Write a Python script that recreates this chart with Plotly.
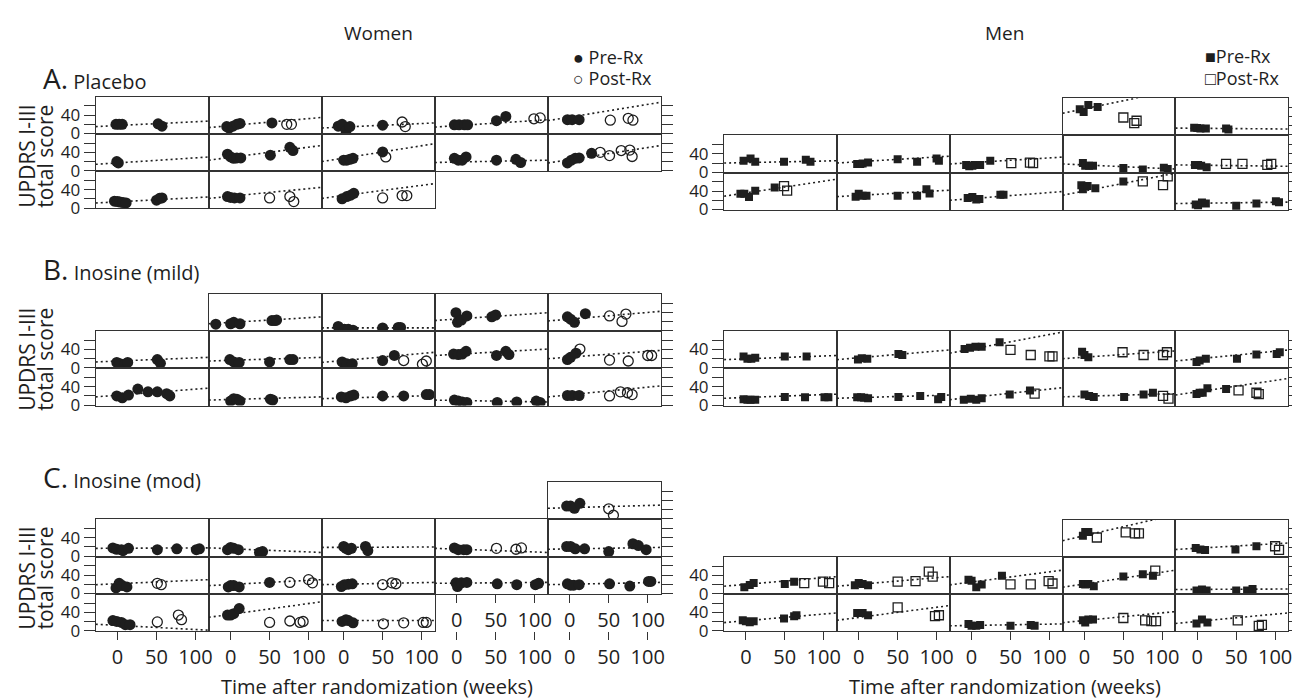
import numpy as np
import plotly.graph_objects as go

# ---------------- data (weeks, UPDRS I-III total score) ----------------
# Women, Placebo
WA_pre_wk = [[-2,2,6,52,57],[-5,-2,3,8,12,53],[-7,-2,3,8,50],[-3,3,10,14,51,63],[-3,3,12],
             [-1,1],[-4,0,4,8,13,51,76,80],[0,4,8,12,50],[-3,2,7,12,51,76,82],[-3,2,7,12,28],
             [-4,0,3,7,11,50,54,57],[-4,0,5,12],[-2,4,9,13]]
WA_pre_score = [[20,20,20,21,16],[15,12,16,20,22,23],[16,20,6,15,18],[19,19,19,19,28,37],[30,30,30],
                [20,17],[36,30,27,28,28,34,51,44],[23,23,25,27,41],[27,23,23,30,23,25,18],[17,23,27,28,38],
                [15,14,13,12,11,17,21,22],[25,23,22,22],[20,25,28,32]]
WA_post_wk = [[],[72,78],[75,79],[99,107],[52,75,81],
              [],[],[54],[],[39,51,66,77,80],
              [],[50,76,81],[50,75,81]]
WA_post_score = [[],[20,20],[25,15],[32,34],[29,33,29],
                 [],[],[30],[],[40,33,44,45,31],
                 [],[22,25,14],[22,27,27]]
WA_fit_int = [17.3,17.2,14.1,17.1,35.7,17.1,29.2,27.5,19.0,24.3,13.5,25.6,27.2]
WA_fit_slope = [0.083,0.152,0.076,0.110,0.276,0.110,0.221,0.269,0.034,0.262,0.090,0.166,0.221]

# Men, Placebo
MA_pre_wk = [[-6,-1,5,17],[-4,0,4,11,37,40],
             [-3,6,12,49,77,83],[-2,2,5,12,50,75,100,103],[-7,-3,1,4,11,24],[-2,1,6,11,50,75,102,107],[-3,1,5,12],
             [-7,-2,4,12,37],[-4,0,5,10,50,75,87,91],[-5,1,6,10,37,41],[-4,-2,4,14,50],[-2,1,6,11,50,76,101,105]]
MA_pre_score = [[56,50,65,61],[16,15,14,14,14,12],
                [25,30,23,23,27,23],[18,18,19,21,28,23,30,25],[16,13,14,16,16,25],[20,14,14,14,9,6,10,7],[16,16,14,11],
                [34,34,27,41,48],[28,34,30,30,30,30,44,35],[25,27,22,23,32,32],[53,44,51,46,61],[11,9,15,13,8,13,18,16]]
MA_post_wk = [[50,64,67],[],
              [],[],[51,75,79],[],[37,58,90,95],
              [49,53],[],[],[75,101,107],[]]
MA_post_score = [[38,26,31],[],
                 [],[],[20,21,20],[],[18,18,16,18],
                 [51,41],[],[],[61,53,72],[]]
MA_fit_int = [57,14.6,21.0,22.9,20.9,15.9,15.4,36.1,30.7,23.7,40.3,13.6]
MA_fit_slope = [0.35,-0.014,0.034,0.103,0.103,-0.076,-0.021,0.255,0.097,0.131,0.331,0.021]

# Women, Inosine (mild)
WB_pre_wk = [[-19,0,4,12,53,57,59],[-7,1,6,12,50,70,73],[-1,1,6,13,45,50],[-3,1,6,20],
             [-1,3,9,13,51,55],[-1,4,11,50,76,80],[-2,4,11,50,65],[-4,2,7,12,51,63,67],[-3,1,8],
             [-1,6,14,26,39,51,63,67],[0,4,8,12,51,54],[-3,3,9,13,50,77,106,110],[-3,2,7,13,52,77,102,107],[-3,3,12]]
WB_pre_score = [[14,15,18,15,22,22,23],[9,3,3,1,6,7,7],[39,18,23,32,30,34],[30,25,18,37],
                [12,9,8,12,18,10],[18,13,12,13,18,18],[13,9,9,16,27],[30,29,30,36,27,36,29],[18,23,32],
                [20,16,22,35,29,29,25,20],[9,14,13,9,13,11],[18,16,20,22,20,20,23,23],[11,9,7,6,6,7,9,6],[21,21,21]]
WB_post_wk = [[],[],[],[51,67,72],
              [],[],[77,101,106],[],[13,51,75,100,105],
              [],[],[],[],[51,65,74,80]]
WB_post_score = [[],[],[],[32,20,36],
                 [],[],[16,8,15],[],[41,17,15,27,27],
                 [],[],[],[],[20,29,27,23]]
WB_fit_int = [17.9,6.0,25.3,25.1,14.9,16.5,16.2,29.7,23.5,21.7,12.4,15.4,10.2,22.6]
WB_fit_slope = [0.103,0.0,0.117,0.145,0.069,0.055,0.152,0.097,0.124,0.131,0.048,0.048,-0.028,0.166]

# Men, Inosine (mild)
MB_pre_wk = [[-3,2,7,12,50,78],[-1,4,11,51,56],[-9,-2,5,13,36],[-3,0,5],[-1,3,11,51,76,102,106],
             [-3,2,6,12,50,76,101,106],[-2,3,7,12,51,79,102,106],[-10,-1,6,13,49,75],[0,6,12,51,76,88],[-1,3,7,13,37]]
MB_pre_score = [[25,20,20,22,25,25],[18,21,20,30,28],[41,44,46,46,56],[35,28,23],[13,16,20,20,29,30,34],
                [13,12,12,12,18,17,17,17],[17,17,16,15,18,20,13,18],[12,14,12,15,23,32],[23,20,18,18,23,27],[24,27,27,37,35]]
MB_post_wk = [[],[],[50,76,100,104],[49,76,101,106],[],
              [],[],[81],[101,108],[53,76,79]]
MB_post_score = [[],[],[39,28,25,25],[34,28,28,34],[],
                 [],[],[25],[20,14],[32,27,24]]
MB_fit_int = [19.7,22.1,40.9,23.3,19.6,16.7,16.4,17.0,19.4,29.0]
MB_fit_slope = [0.062,0.145,0.317,0.117,0.166,0.062,0.048,0.179,0.048,0.248]

# Women, Inosine (mod)
WC_pre_wk = [[-4,1,6,13],
             [-6,-1,5,7,14,51,76,101,105],[-4,0,4,10,37,41],[0,3,6,10,28,31],[-3,2,9,13],[-4,1,7,19,50,81,88,98],
             [-2,2,6,12],[-3,0,4,11,50],[-3,1,6,11],[-1,1,6,13,52,77,101,105],[-3,1,5,12,51,77,101,104],
             [-6,-1,5,10,16],[-4,0,4,11],[-2,3,6,12]]
WC_pre_score = [[28,28,23,34],
                [18,15,14,12,17,14,16,14,16],[14,19,17,14,8,10],[21,17,14,17,21,12],[18,14,14,14],[21,21,16,16,10,27,23,14],
                [12,22,17,14],[14,17,17,14,24],[15,19,20,21],[23,15,23,24,21,19,19,22],[21,18,18,19,21,16,26,26],
                [22,20,18,13,13],[34,34,37,48],[20,24,22,17]]
WC_post_wk = [[50,56],
              [],[],[],[51,76,83],[],
              [51,56],[76,100,105],[50,62,67],[],[],
              [51,78,82],[50,76,89,93],[51,77,102,106]]
WC_post_score = [[22,8],
                 [],[],[],[17,15,18],[],
                 [22,19],[24,30,23],[19,23,21],[],[],
                 [19,34,24],[18,21,18,20],[15,17,18,18]]
WC_fit_int = [24.4,17.2,16.1,19.2,15.3,15.8,21.1,19.5,20.0,22.4,20.0,11.5,35.6,22.0]
WC_fit_slope = [0.048,0.007,-0.069,0.007,-0.062,0.028,0.076,0.090,0.034,0.014,0.034,-0.090,0.234,0.0]

# Men, Inosine (mod)
MC_pre_wk = [[-2,1,5],[-2,4,10,49,76],
             [-2,5,10,50,62],[-5,0,5,12],[-4,0,6,13,39],[-2,1,5,12,50,75,88],[-1,6,12,50,64,71],
             [-4,0,5,10,49,62,65],[-2,3,5,12],[-4,0,6,11,50,76,81],[-2,1,5,11],[-1,6,13]]
MC_pre_score = [[45,53,53],[18,15,14,15,22],
                [14,19,23,21,26],[18,23,21,18],[30,28,14,20,39],[21,20,21,16,37,42,39],[7,9,7,7,7,10],
                [23,21,19,21,27,32,34],[39,39,39,34],[15,11,11,13,11,13,11],[23,18,25,25],[16,25,18]]
MC_post_wk = [[16,53,65,70],[100,105],
              [75,99,107],[50,73,90,95],[50,76,99,104],[91],[],
              [],[50,98,103],[],[50,78,86,92],[52,79,83]]
MC_post_score = [[41,52,50,50],[22,14],
                 [23,26,23],[26,27,48,37],[20,20,27,22],[50],[],
                 [],[51,32,34],[],[28,23,21,21],[23,11,13]]
MC_fit_int = [45,17.7,20.1,20.1,25.2,21.1,9.2,22.1,29.2,11.8,22.6,20.5]
MC_fit_slope = [0.39,0.097,0.145,0.145,0.221,0.255,0.007,0.145,0.221,0.028,0.166,0.159]

X_TICKS = [0, 50, 100]
Y_TICKS = [0, 20, 40, 60]
Y_TICKTEXT = ["0", "", "40", ""]
X_RANGE = [-28, 117]
Y_RANGE = [-1, 80]

# ---------------- lattice layout (pixels) ----------------
W, H = 1300, 698
RH = 37.8
WOMEN_LEFT, WOMEN_CW = 88.0, 113.4
MEN_LEFT, MEN_CW = 718.3, 113.2


def full(r, cols):
    return [(r, c) for c in cols]


WA_cells = full(0, range(5)) + full(1, range(5)) + full(2, range(3))
MA_cells = full(0, [3, 4]) + full(1, range(5)) + full(2, range(5))
WB_cells = full(0, [1, 2, 3, 4]) + full(1, range(5)) + full(2, range(5))
MB_cells = full(0, range(5)) + full(1, range(5))
WC_cells = full(0, [4]) + full(1, range(5)) + full(2, range(5)) + full(3, range(3))
MC_cells = full(0, [3, 4]) + full(1, range(5)) + full(2, range(5))

groups = [
    ("W", 90.0, WA_cells, WA_pre_wk, WA_pre_score, WA_post_wk, WA_post_score, WA_fit_int, WA_fit_slope, False),
    ("M", 91.5, MA_cells, MA_pre_wk, MA_pre_score, MA_post_wk, MA_post_score, MA_fit_int, MA_fit_slope, False),
    ("W", 290.0, WB_cells, WB_pre_wk, WB_pre_score, WB_post_wk, WB_post_score, WB_fit_int, WB_fit_slope, False),
    ("M", 327.8, MB_cells, MB_pre_wk, MB_pre_score, MB_post_wk, MB_post_score, MB_fit_int, MB_fit_slope, False),
    ("W", 481.0, WC_cells, WC_pre_wk, WC_pre_score, WC_post_wk, WC_post_score, WC_fit_int, WC_fit_slope, True),
    ("M", 519.0, MC_cells, MC_pre_wk, MC_pre_score, MC_post_wk, MC_post_score, MC_fit_int, MC_fit_slope, True),
]

INK = "#1e1e1e"
FONT = "Open Sans"
fig = go.Figure()
lay = {}
n_ax = [0]


def new_axes():
    n_ax[0] += 1
    n = n_ax[0]
    sfx = "" if n == 1 else str(n)
    return n, "x" + sfx, "y" + sfx, "xaxis" + sfx, "yaxis" + sfx


def xdom(sex, c):
    left, cw = (WOMEN_LEFT, WOMEN_CW) if sex == "W" else (MEN_LEFT, MEN_CW)
    return [(left + c * cw) / W, (left + (c + 1) * cw) / W]


def ydom(top, r):
    y0 = top + r * RH
    return [1 - (y0 + RH) / H, 1 - y0 / H]


XTICKFONT = dict(size=20, color=INK, family=FONT)
YTICKFONT = dict(size=17, color=INK, family=FONT)

for sex, top, cells, pwk, psc, qwk, qsc, fb, fs, with_x in groups:
    nrows = max(r for r, c in cells) + 1
    bottom_of_col = {}
    for r, c in cells:
        bottom_of_col[c] = max(bottom_of_col.get(c, -1), r)
    for i, (r, c) in enumerate(cells):
        n, xr, yr, xk, yk = new_axes()
        is_bottom = with_x and bottom_of_col[c] == r
        xl = np.array(X_RANGE, dtype=float)
        fig.add_trace(go.Scatter(x=xl, y=fb[i] + fs[i] * xl, mode="lines",
                                 line=dict(color=INK, width=1.6, dash="2px,3px"),
                                 xaxis=xr, yaxis=yr, showlegend=False, hoverinfo="skip"))
        if sex == "W":
            pre_m = dict(symbol="circle", size=11, color=INK, line=dict(width=0))
            post_m = dict(symbol="circle-open", size=10, color=INK, line=dict(width=1.3, color=INK))
        else:
            pre_m = dict(symbol="square", size=8, color=INK, line=dict(width=0))
            post_m = dict(symbol="square-open", size=9, color=INK, line=dict(width=1.3, color=INK))
        if pwk[i]:
            fig.add_trace(go.Scatter(x=pwk[i], y=psc[i], mode="markers", marker=pre_m,
                                     xaxis=xr, yaxis=yr, showlegend=False))
        if qwk[i]:
            fig.add_trace(go.Scatter(x=qwk[i], y=qsc[i], mode="markers", marker=post_m,
                                     xaxis=xr, yaxis=yr, showlegend=False))
        lay[xk] = dict(domain=xdom(sex, c), range=X_RANGE, anchor=yr, showline=True, mirror=True,
                       linecolor="#333", linewidth=1.2, showgrid=False, zeroline=False, fixedrange=True,
                       ticks="outside" if is_bottom else "", tickvals=X_TICKS, ticklen=8, tickwidth=1.2,
                       tickcolor="#333", showticklabels=is_bottom, tickfont=XTICKFONT)
        yax = dict(domain=ydom(top, r), range=Y_RANGE, anchor=xr, showline=True, mirror=True,
                   linecolor="#333", linewidth=1.2, showgrid=False, zeroline=False, fixedrange=True,
                   tickvals=Y_TICKS, ticktext=Y_TICKTEXT, ticklen=11, tickwidth=1.2, tickcolor="#333",
                   tickfont=YTICKFONT, ticks="", showticklabels=False)
        if c == 0:
            yax.update(ticks="outside", showticklabels=True, side="left")
        elif c == 4:
            yax.update(ticks="outside", showticklabels=False, side="right")
        lay[yk] = yax
    # empty columns of the bottom row still carry the time axis
    if with_x:
        for c in range(5):
            if bottom_of_col.get(c, -1) == nrows - 1:
                continue
            n, xr, yr, xk, yk = new_axes()
            fig.add_trace(go.Scatter(x=[None], y=[None], xaxis=xr, yaxis=yr,
                                     showlegend=False, hoverinfo="skip"))
            lay[xk] = dict(domain=xdom(sex, c), range=X_RANGE, anchor=yr, showline=False,
                           showgrid=False, zeroline=False, fixedrange=True, ticks="outside",
                           tickvals=X_TICKS, ticklen=8, tickwidth=1.2, tickcolor="#333",
                           tickfont=XTICKFONT)
            lay[yk] = dict(domain=ydom(top, nrows - 1), range=Y_RANGE, anchor=xr, visible=False,
                           fixedrange=True)

# ---------------- text ----------------
ann = []


def text(t, x, y, size, xanchor="center", angle=0):
    ann.append(dict(text=t, x=x / W, y=1 - y / H, xref="paper", yref="paper", showarrow=False,
                    xanchor=xanchor, yanchor="middle", textangle=angle,
                    font=dict(size=size, color=INK, family=FONT)))


text("Women", 372, 25, 19)
text("Men", 1000, 25, 19)
text("<span style='font-size:28px'>A.</span> Placebo", 33, 71, 20, "left")
text("<span style='font-size:28px'>B.</span> Inosine (mild)", 33, 265, 20, "left")
text("<span style='font-size:28px'>C.</span> Inosine (mod)", 33, 476, 20, "left")
text("● Pre-Rx", 565, 50, 18, "left")
text("○ Post-Rx", 565, 71, 18, "left")
text("■Pre-Rx", 1199, 49, 18, "left")
text("□Post-Rx", 1199, 71, 18, "left")
for yc in (150, 356, 578):
    text("UPDRS I-III", 19, yc, 21, angle=-90)
    text("total score", 37, yc, 21, angle=-90)
text("Time after randomization (weeks)", 370, 688, 20)
text("Time after randomization (weeks)", 1000, 688, 20)

fig.update_layout(width=W, height=H, autosize=False, margin=dict(l=0, r=0, t=0, b=0),
                  paper_bgcolor="white", plot_bgcolor="white", showlegend=False,
                  font=dict(family=FONT, color=INK), annotations=ann, **lay)
fig.write_html("out.html")
